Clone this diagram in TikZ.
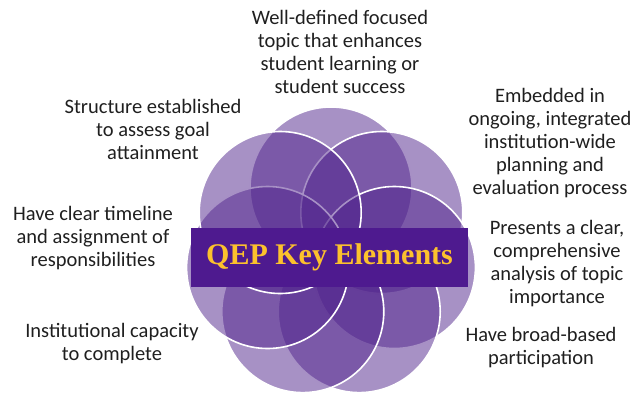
\documentclass[tikz,border=0pt]{standalone}
\usepackage{fontspec}
\setmainfont{Carlito}
\newfontfamily\titlefont{Liberation Serif}
\definecolor{petalpurple}{RGB}{80,35,140}
\definecolor{bannerpurple}{RGB}{78,26,143}
\definecolor{titlegold}{RGB}{252,193,45}
\begin{document}
\begin{tikzpicture}[
        x=1pt, y=-1pt,
        petal/.style={circle, draw=white, line width=1.6pt, fill=petalpurple, fill opacity=0.5, minimum size=162pt, inner sep=0pt}, % Circulos da flor
        banner/.style={rectangle, fill=bannerpurple, minimum width=277pt, minimum height=59pt, inner sep=0pt}, % Faixa central
        label/.style={align=center, text=black!88, font=\fontsize{20.5}{23}\selectfont}, % Textos em volta
        title/.style={text=titlegold, font=\titlefont\bfseries\fontsize{30}{34}\selectfont}
    ]
    \useasboundingbox (0,0) rectangle (637,400);
    % Circulos, do topo em sentido horario
    \node[petal] (top) at (331,188) {};
    \node[petal] (upright) at (381.8,212.5) {};
    \node[petal] (right) at (394.4,267.5) {};
    \node[petal] (lowright) at (359.2,311.6) {};
    \node[petal] (lowleft) at (302.8,311.6) {};
    \node[petal] (left) at (267.6,267.5) {};
    \node[petal] (upleft) at (280.2,212.5) {};
    % Faixa com o titulo
    \node[banner] (qep) at (329.5,257.5) {};
    \node[title] (qeptitle) at (qep.center) {QEP Key Elements};
    % Textos
    \node[label] (topic) at (340,52) {Well-defined focused\\topic that enhances\\student learning or\\student success};
    \node[label] (embedded) at (550,143) {Embedded in\\ongoing, integrated\\institution-wide\\planning and\\evaluation process};
    \node[label] (presents) at (557,264) {Presents a clear,\\comprehensive\\analysis of topic\\importance};
    \node[label] (broad) at (541,348) {Have broad-based\\participation};
    \node[label] (capacity) at (112,344) {Institutional capacity\\to complete};
    \node[label] (timeline) at (93,238) {Have clear timeline\\and assignment of\\responsibilities};
    \node[label] (structure) at (153,129) {Structure established\\to assess goal\\attainment};
\end{tikzpicture}
\end{document}
